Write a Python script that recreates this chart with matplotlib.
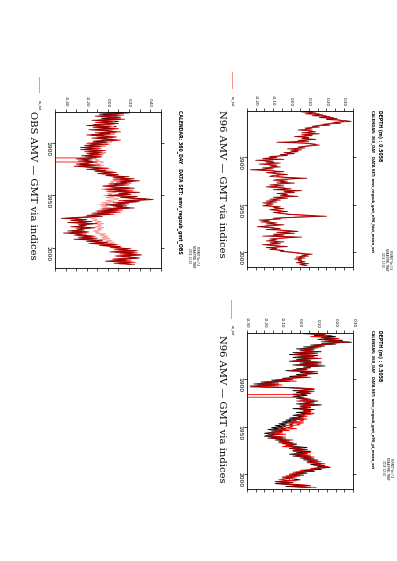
import numpy as np
import matplotlib
matplotlib.use('Agg')
import matplotlib.pyplot as plt
from matplotlib.lines import Line2D

# ---- data (annual AMV indices) ----
obs_years = list(range(1870, 2017))
obs_darkred = [0.05, 0.20, -0.05, 0.10, -0.12, 0.08, -0.02, 0.12, -0.15, 0.05,
               -0.08, 0.10, -0.05, -0.20, 0.02, -0.10, 0.06, -0.18, -0.02, 0.08,
               -0.12, 0.02, -0.20, -0.05, 0.05, -0.15, -0.02, 0.08, -0.10, -0.04,
               -0.15, -0.05, -0.22, -0.10, -0.26, -0.12, -0.24, -0.05, -0.18, -0.08,
               -0.20, -0.10, -0.25, -0.06, -0.18, -0.30, -0.15, -0.28, -0.10, -0.22,
               -0.30, -0.12, -0.32, -0.15, -0.05, -0.20, -0.02, -0.12, 0.05, -0.08,
               0.10, -0.02, 0.20, 0.05, 0.25, 0.12, 0.30, 0.08, 0.22, 0.02,
               0.15, -0.05, 0.10, 0.25, -0.02, 0.18, 0.05, 0.30, 0.10, 0.22,
               0.00, 0.28, 0.12, 0.35, 0.43, 0.15, 0.30, 0.05, 0.20, -0.02,
               0.18, 0.05, 0.25, -0.05, 0.10, -0.10, 0.08, -0.15, 0.02, -0.20,
               -0.05, -0.30, -0.44, -0.20, -0.35, -0.15, -0.38, -0.10, -0.28, -0.20,
               -0.35, -0.12, -0.30, -0.22, -0.38, -0.18, -0.42, -0.25, -0.30, -0.15,
               -0.28, -0.10, -0.32, -0.05, -0.20, 0.00, -0.15, 0.08, -0.05, 0.12,
               0.05, 0.20, 0.10, 0.28, 0.02, 0.25, 0.15, 0.32, 0.08, 0.22,
               0.30, 0.05, 0.18, -0.02, 0.22, 0.10, 0.25]
obs_black = [0.00, 0.15, -0.08, 0.05, -0.05, 0.12, -0.06, 0.05, -0.10, 0.10,
             -0.02, 0.05, -0.12, -0.15, 0.08, -0.05, 0.00, -0.12, 0.04, 0.02,
             -0.06, 0.06, -0.15, 0.00, -0.02, -0.10, 0.04, 0.02, -0.14, 0.00,
             -0.10, -0.12, -0.18, -0.04, -0.22, -0.16, -0.20, -0.10, -0.14, -0.02,
             -0.16, -0.14, -0.20, -0.10, -0.12, -0.24, -0.18, -0.22, -0.14, -0.18,
             -0.26, -0.16, -0.28, -0.10, -0.10, -0.16, -0.06, -0.08, 0.00, -0.02,
             0.04, 0.02, 0.14, 0.10, 0.18, 0.16, 0.24, 0.12, 0.18, 0.06,
             0.10, 0.00, 0.06, 0.20, 0.02, 0.14, 0.10, 0.24, 0.14, 0.18,
             0.04, 0.22, 0.16, 0.30, 0.36, 0.20, 0.26, 0.10, 0.16, 0.02,
             0.14, 0.08, 0.20, 0.00, 0.06, -0.06, 0.04, -0.10, -0.02, -0.16,
             -0.10, -0.24, -0.38, -0.24, -0.30, -0.18, -0.32, -0.14, -0.24, -0.22,
             -0.30, -0.16, -0.26, -0.24, -0.34, -0.20, -0.36, -0.26, -0.26, -0.18,
             -0.24, -0.14, -0.28, -0.10, -0.16, -0.04, -0.12, 0.04, -0.02, 0.08,
             0.08, 0.16, 0.12, 0.24, 0.06, 0.22, 0.18, 0.26, 0.12, 0.20,
             0.26, 0.08, 0.16, 0.02, 0.20, 0.14, 0.22]
obs_red = [0.08, 0.12, 0.00, 0.15, -0.08, 0.04, 0.02, 0.16, -0.08, 0.00,
           -0.12, 0.06, 0.02, -0.16, -0.04, -0.14, 0.10, -0.10, -0.06, 0.12,
           -0.08, -0.04, -0.16, -0.10, 0.08, -0.08, -0.06, 0.12, -0.04, -0.08,
           -0.20, 0.00, -0.18, -0.14, -0.20, -0.08, -0.26, -0.02, -0.22, -0.12,
           -0.14, -0.06, -0.22, -0.12, -0.20, -5.0, -5.0, -5.0, -0.14, -0.20,
           -0.24, -0.08, -0.26, -0.18, 0.00, -0.16, -0.08, -0.04, 0.08, -0.10,
           0.06, 0.02, 0.16, 0.12, 0.20, 0.06, 0.26, 0.14, 0.16, 0.08,
           0.20, 0.02, 0.04, 0.18, 0.04, 0.24, 0.00, 0.22, 0.16, 0.14,
           0.06, 0.20, 0.18, 0.28, 0.34, 0.10, 0.24, 0.12, 0.12, 0.04,
           0.12, 0.10, 0.16, 0.02, 0.14, -0.04, 0.12, -0.08, 0.06, -0.12,
           -0.12, -0.22, -0.34, -0.26, -0.28, -0.20, -0.30, -0.16, -0.22, -0.26,
           -0.28, -0.18, -0.24, -0.28, -0.30, -0.22, -0.34, -0.20, -0.32, -0.12,
           -0.22, -0.16, -0.26, -0.12, -0.14, -0.06, -0.18, 0.02, -0.08, 0.10,
           0.02, 0.22, 0.06, 0.26, 0.08, 0.28, 0.12, 0.30, 0.14, 0.20,
           0.28, 0.10, 0.22, 0.04, 0.26, 0.06, 0.20]
obs_pink = [0.02, 0.06, 0.04, 0.08, 0.00, 0.06, 0.04, 0.10, 0.02, 0.06,
            0.00, 0.08, 0.04, -0.02, 0.06, 0.02, 0.10, 0.00, 0.04, 0.08,
            0.02, 0.06, -0.04, 0.02, 0.08, 0.00, 0.04, 0.10, 0.02, 0.04,
            -0.04, 0.02, -0.08, -0.02, -0.12, -0.06, -0.14, -0.04, -0.10, -0.02,
            -0.08, -0.04, -0.12, -0.06, -0.10, -0.14, -0.08, -0.12, -0.04, -0.08,
            -0.12, -0.04, -0.10, -0.06, 0.02, -0.04, 0.00, 0.04, 0.06, 0.02,
            0.06, 0.04, 0.08, 0.06, 0.10, 0.04, 0.08, 0.02, 0.06, 0.00,
            0.04, -0.04, 0.02, 0.06, -0.06, 0.04, -0.02, 0.08, 0.00, 0.04,
            -0.04, 0.06, -0.02, 0.10, 0.08, -0.02, 0.06, -0.06, 0.02, -0.08,
            0.00, -0.06, 0.04, -0.08, -0.02, -0.12, -0.04, -0.10, -0.06, -0.14,
            -0.08, -0.12, -0.16, -0.10, -0.14, -0.06, -0.12, -0.04, -0.10, -0.06,
            -0.12, -0.04, -0.10, -0.06, -0.14, -0.08, -0.12, -0.02, -0.08, 0.00,
            -0.06, 0.02, -0.08, 0.04, -0.02, 0.06, 0.00, 0.10, 0.04, 0.12,
            0.06, 0.14, 0.08, 0.18, 0.04, 0.16, 0.10, 0.20, 0.06, 0.14,
            0.18, 0.04, 0.12, -0.02, 0.16, 0.06, 0.14]

n96_years = list(range(1850, 2015))
n96a_darkred = [0.05, 0.10, 0.06, 0.14, 0.08, 0.18, 0.12, 0.22, 0.16, 0.26,
                0.20, 0.30, 0.34, 0.24, 0.28, 0.18, 0.22, 0.12, 0.16, 0.08,
                0.12, 0.04, 0.10, 0.14, 0.06, 0.16, 0.08, 0.12, 0.02, 0.10,
                0.06, 0.14, 0.04, 0.10, -0.08, 0.08, 0.12, 0.16, 0.10, 0.04,
                0.08, -0.02, 0.06, 0.00, 0.04, -0.04, 0.02, -0.06, -0.02, -0.12,
                -0.08, -0.16, -0.04, -0.20, -0.10, -0.14, -0.06, -0.18, -0.08, -0.12,
                -0.06, -0.16, -0.10, -0.23, -0.12, -0.04, -0.14, -0.08, -0.02, -0.10,
                -0.12, -0.04, 0.09, -0.06, -0.10, -0.02, -0.08, 0.02, -0.06, -0.12,
                -0.04, -0.14, -0.08, 0.00, -0.10, 0.06, -0.04, 0.02, -0.08, -0.02,
                -0.06, 0.04, -0.10, -0.02, -0.12, -0.06, -0.14, -0.08, -0.16, -0.10,
                -0.12, -0.16, -0.06, -0.10, -0.04, -0.12, -0.08, -0.02, -0.10, -0.06,
                -0.02, 0.08, 0.20, 0.04, -0.10, -0.06, -0.18, -0.12, -0.17, -0.08,
                -0.14, -0.04, -0.10, -0.19, -0.12, -0.06, -0.14, -0.02, 0.04, -0.08,
                0.02, -0.10, -0.04, -0.16, 0.06, -0.06, -0.12, -0.08, -0.14, -0.04,
                -0.12, -0.06, -0.16, -0.10, -0.02, -0.14, -0.08, -0.12, -0.04, -0.06,
                0.00, 0.04, 0.12, 0.06, 0.10, 0.03, 0.08, 0.02, 0.06, 0.04,
                0.08, 0.03, 0.10, 0.05, 0.09]
n96a_red = [0.08, 0.06, 0.12, 0.10, 0.16, 0.14, 0.20, 0.18, 0.24, 0.20,
            0.26, 0.28, 0.30, 0.26, 0.22, 0.20, 0.16, 0.14, 0.12, 0.10,
            0.08, 0.08, 0.12, 0.10, 0.10, 0.12, 0.06, 0.10, 0.06, 0.08,
            0.10, 0.10, 0.06, 0.04, 0.00, 0.10, 0.14, 0.12, 0.08, 0.06,
            0.04, 0.02, 0.02, 0.04, 0.00, 0.00, -0.02, -0.02, -0.06, -0.08,
            -0.12, -0.12, -0.10, -0.16, -0.14, -0.10, -0.10, -0.14, -0.12, -0.08,
            -0.10, -0.12, -0.14, -0.18, -0.10, -0.08, -0.10, -0.10, -0.06, -0.08,
            -0.08, -0.02, 0.04, -0.02, -0.06, -0.04, -0.06, -0.02, -0.08, -0.08,
            -0.08, -0.10, -0.04, -0.02, -0.06, 0.02, 0.00, -0.02, -0.04, -0.04,
            -0.04, 0.00, -0.06, -0.06, -0.08, -0.10, -0.10, -0.12, -0.12, -0.12,
            -0.14, -0.12, -0.08, -0.08, -0.08, -0.10, -0.06, -0.06, -0.08, -0.04,
            0.00, 0.10, 0.14, 0.02, -0.06, -0.10, -0.14, -0.14, -0.12, -0.10,
            -0.10, -0.08, -0.14, -0.15, -0.10, -0.10, -0.08, -0.04, 0.00, -0.04,
            -0.02, -0.06, -0.08, -0.10, 0.02, -0.04, -0.08, -0.10, -0.10, -0.08,
            -0.08, -0.10, -0.12, -0.08, -0.06, -0.10, -0.10, -0.08, -0.06, -0.04,
            0.02, 0.06, 0.08, 0.08, 0.06, 0.05, 0.06, 0.04, 0.05, 0.06,
            0.06, 0.05, 0.07, 0.06, 0.08]

n96b_black = [0.04, 0.10, 0.02, 0.14, 0.08, 0.20, 0.12, 0.18, 0.10, 0.24,
              0.16, 0.29, 0.12, 0.20, 0.06, 0.14, 0.02, 0.10, -0.02, 0.08,
              0.00, 0.12, -0.04, 0.06, -0.06, 0.10, 0.02, -0.04, 0.08, -0.02,
              0.06, -0.06, 0.12, 0.00, 0.08, -0.04, 0.14, 0.02, 0.06, -0.02,
              0.04, -0.08, 0.06, 0.00, 0.10, -0.02, 0.04, -0.06, 0.02, -0.10,
              -0.04, -0.16, -0.08, -0.22, -0.12, -0.26, -0.14, -0.20, -0.28, -0.06,
              0.02, 0.08, -0.04, 0.04, -0.02, 0.06, 0.00, 0.04, -0.04, 0.02,
              -0.02, 0.06, 0.00, 0.10, 0.02, 0.08, -0.02, 0.12, 0.04, 0.00,
              0.06, -0.04, 0.08, 0.02, 0.06, -0.02, 0.04, 0.00, -0.04, 0.02,
              -0.02, -0.06, 0.00, -0.08, -0.04, -0.10, -0.06, -0.12, -0.08, -0.14,
              -0.10, -0.16, -0.12, -0.18, -0.14, -0.10, -0.16, -0.20, -0.14, -0.18,
              -0.20, -0.12, -0.18, -0.08, -0.14, -0.06, -0.12, -0.04, -0.10, -0.02,
              -0.08, -0.02, 0.04, -0.06, 0.02, -0.04, 0.06, -0.02, 0.04, -0.06,
              0.02, -0.04, 0.06, 0.00, 0.08, 0.02, 0.10, 0.04, 0.08, 0.12,
              0.06, 0.14, 0.10, 0.17, 0.08, 0.12, 0.04, 0.08, -0.02, 0.04,
              -0.06, 0.02, -0.08, -0.02, -0.10, -0.04, 0.00, -0.08, -0.12, -0.04,
              -0.14, -0.06, 0.02, -0.08, 0.04]
n96b_red = [0.08, 0.06, 0.12, 0.10, 0.18, 0.06, 0.16, 0.22, 0.14, 0.20,
            0.12, 0.26, 0.18, 0.14, 0.10, 0.08, 0.12, 0.04, 0.06, 0.00,
            0.06, 0.08, 0.00, 0.10, -0.02, 0.04, 0.08, 0.00, 0.12, 0.02,
            0.00, -0.04, 0.08, 0.04, 0.12, 0.00, 0.08, 0.06, 0.02, 0.04,
            -0.04, -0.02, 0.10, 0.04, 0.06, 0.02, 0.00, -0.02, 0.06, -0.06,
            -0.10, -0.12, -0.02, -0.18, -0.20, -0.22, -0.10, -0.28, -0.16, -0.02,
            0.08, 0.04, 0.00, 0.08, 0.02, 0.06, -0.06, -5.0, -5.0, -0.02,
            0.04, 0.02, 0.08, -0.02, 0.06, 0.04, 0.02, 0.08, 0.00, 0.06,
            0.02, 0.04, 0.00, 0.06, 0.02, 0.04, 0.08, 0.06, 0.00, 0.04,
            0.02, -0.02, 0.04, 0.00, 0.02, -0.04, 0.02, -0.02, 0.00, -0.06,
            -0.04, -0.08, -0.02, -0.12, -0.06, -0.16, -0.10, -0.14, -0.08, -0.18,
            -0.14, -0.08, -0.16, -0.12, -0.04, -0.10, -0.06, -0.12, -0.02, -0.08,
            -0.04, -0.10, 0.00, -0.06, 0.04, 0.00, -0.04, 0.06, 0.02, -0.02,
            0.06, 0.00, 0.08, 0.04, 0.02, 0.10, 0.06, 0.12, 0.04, 0.14,
            0.10, 0.08, 0.16, 0.12, 0.06, 0.10, 0.00, 0.06, -0.04, 0.02,
            -0.02, -0.06, 0.00, -0.10, -0.04, -0.08, -0.12, -0.02, -0.14, -0.06,
            -0.10, 0.00, 0.06, -0.04, 0.09]
n96b_darkred = [0.06, 0.08, 0.06, 0.12, 0.12, 0.14, 0.14, 0.20, 0.12, 0.22,
                0.14, 0.28, 0.16, 0.18, 0.08, 0.12, 0.06, 0.08, 0.02, 0.04,
                0.02, 0.10, -0.02, 0.08, -0.04, 0.08, 0.04, -0.02, 0.10, 0.00,
                0.04, -0.04, 0.10, 0.02, 0.10, -0.02, 0.10, 0.04, 0.04, 0.02,
                0.00, -0.06, 0.08, 0.02, 0.08, 0.00, 0.02, -0.04, 0.04, -0.08,
                -0.06, -0.14, -0.06, -0.20, -0.16, -0.24, -0.12, -0.24, -0.22, -0.04,
                0.06, 0.06, -0.02, 0.06, 0.00, 0.06, -0.04, 0.00, -0.02, 0.00,
                0.00, 0.04, 0.04, 0.04, 0.04, 0.06, 0.00, 0.10, 0.02, 0.02,
                0.04, 0.00, 0.04, 0.04, 0.04, 0.02, 0.06, 0.02, -0.02, 0.02,
                0.00, -0.04, 0.02, -0.04, -0.02, -0.08, -0.02, -0.06, -0.04, -0.10,
                -0.08, -0.12, -0.08, -0.16, -0.10, -0.12, -0.14, -0.16, -0.12, -0.18,
                -0.18, -0.10, -0.16, -0.10, -0.10, -0.08, -0.10, -0.08, -0.06, -0.04,
                -0.06, -0.06, 0.02, -0.06, 0.04, -0.02, 0.02, 0.02, 0.04, -0.04,
                0.04, -0.02, 0.06, 0.02, 0.06, 0.06, 0.08, 0.08, 0.06, 0.12,
                0.08, 0.12, 0.12, 0.16, 0.08, 0.10, 0.02, 0.08, -0.02, 0.02,
                -0.04, -0.02, -0.04, -0.06, -0.08, -0.06, -0.06, -0.06, -0.14, -0.04,
                -0.12, -0.04, 0.04, -0.06, 0.06]

year_ticks = [1900, 1950, 2000]

BLACK = '#000000'
DARKRED = '#990000'
RED = '#ff0000'
PINK = '#ff8c8c'


def style_axes(ax, xlim, ylim, minor_step, major_step, fmt='%.2f'):
    ax.set_xlim(*xlim)
    ax.set_ylim(*ylim)   # inverted: time runs downward
    ax.set_xticks(np.arange(xlim[0], xlim[1] + 1e-9, minor_step))
    labels = []
    for v in np.arange(xlim[0], xlim[1] + 1e-9, minor_step):
        r = round(v / major_step)
        labels.append(fmt % v if abs(v - r * major_step) < 1e-6 else '')
    labels = [l.replace('-0.00', '0.00') for l in labels]
    ax.set_xticklabels(labels)
    ax.set_yticks(year_ticks)
    ax.set_yticklabels([str(y) for y in year_ticks])
    ax.tick_params(axis='x', top=True, bottom=True, labeltop=True, labelbottom=False,
                   labelrotation=-90, labelsize=3.0, length=2.2, width=0.5, pad=1.5,
                   direction='out')
    ax.tick_params(axis='y', left=True, right=True, labelrotation=-90, labelsize=4.3,
                   length=2.5, width=0.5, pad=0.8, direction='out')
    for s in ax.spines.values():
        s.set_linewidth(0.6)


fig = plt.figure(figsize=(3.97, 5.61), dpi=100)

lw = 0.6
title_kw = dict(rotation=-90, ha='center', va='center', family='DejaVu Serif', fontsize=7.2)
small_kw = dict(rotation=-90, ha='center', va='top', fontsize=3.3, fontweight='bold')
sig = 'FERRET Ver.7.4\nNOAA/PMEL TMAP\n2019  12:10'

# OBS panel
ax1 = fig.add_axes([0.1385, 0.5223, 0.2663, 0.2781])
ax1.plot(obs_black, obs_years, color=BLACK, lw=lw)
ax1.plot(obs_pink, obs_years, color=PINK, lw=lw)
ax1.plot(obs_red, obs_years, color=RED, lw=lw)
ax1.plot(obs_darkred, obs_years, color=DARKRED, lw=lw)
style_axes(ax1, (-0.5, 0.5), (2019.5, 1870), 0.1, 0.2)
fig.text(0.081, 0.670, 'OBS AMV — GMT via indices', **title_kw)
fig.text(0.4534, 0.804, 'CALENDAR: 360_DAY   DATA SET: amv_regsub_gmt_OBS', **small_kw)
fig.text(0.487, 0.544, sig, rotation=-90, ha='center', va='center', fontsize=1.8,
         linespacing=1.0)
fig.add_artist(Line2D([0.098, 0.098], [0.863, 0.836], color=PINK, lw=0.7,
                      transform=fig.transFigure))
fig.text(0.098, 0.822, 'as_sst', rotation=-90, ha='center', va='top', fontsize=2.4)

# N96 panel (top right)
ax2 = fig.add_axes([0.6214, 0.5241, 0.2678, 0.2781])
ax2.plot(n96a_red, n96_years, color=RED, lw=lw)
ax2.plot(n96a_darkred, n96_years, color=DARKRED, lw=lw)
style_axes(ax2, (-0.25, 0.35), (2015.5, 1851), 0.05, 0.1)
fig.text(0.559, 0.672, 'N96 AMV — GMT via indices', **title_kw)
fig.text(0.957, 0.804, 'DEPTH (m) : 0.5058', **small_kw)
fig.text(0.938, 0.804, 'CALENDAR: 360_DAY   DATA SET: amv_regsub_gmt_n96_hist_mean_sst',
         rotation=-90, ha='center', va='top', fontsize=2.6, fontweight='bold')
fig.text(0.972, 0.538, sig, rotation=-90, ha='center', va='center', fontsize=1.8,
         linespacing=1.0)
fig.add_artist(Line2D([0.584, 0.584], [0.872, 0.843], color=PINK, lw=0.7,
                      transform=fig.transFigure))
fig.text(0.584, 0.829, 'as_sst', rotation=-90, ha='center', va='top', fontsize=2.4)

# N96 panel (bottom right)
ax3 = fig.add_axes([0.6214, 0.1278, 0.2686, 0.2791])
ax3.plot(n96b_black, n96_years, color=BLACK, lw=lw)
ax3.plot(n96b_red, n96_years, color=RED, lw=lw)
ax3.plot(n96b_darkred, n96_years, color=DARKRED, lw=lw)
style_axes(ax3, (-0.30, 0.30), (2016, 1851), 0.05, 0.1)
fig.text(0.5584, 0.271, 'N96 AMV — GMT via indices', **title_kw)
fig.text(0.957, 0.412, 'DEPTH (m) : 0.5058', **small_kw)
fig.text(0.938, 0.412, 'CALENDAR: 360_DAY   DATA SET: amv_regsub_gmt_n96_pi_mean_sst',
         rotation=-90, ha='center', va='top', fontsize=2.6, fontweight='bold')
fig.text(0.974, 0.166, sig, rotation=-90, ha='center', va='center', fontsize=1.8,
         linespacing=1.0)
fig.add_artist(Line2D([0.582, 0.582], [0.465, 0.433], color=PINK, lw=0.7,
                      transform=fig.transFigure))
fig.text(0.582, 0.421, 'as_sst', rotation=-90, ha='center', va='top', fontsize=2.4)

fig.savefig('out.png', dpi=100)
